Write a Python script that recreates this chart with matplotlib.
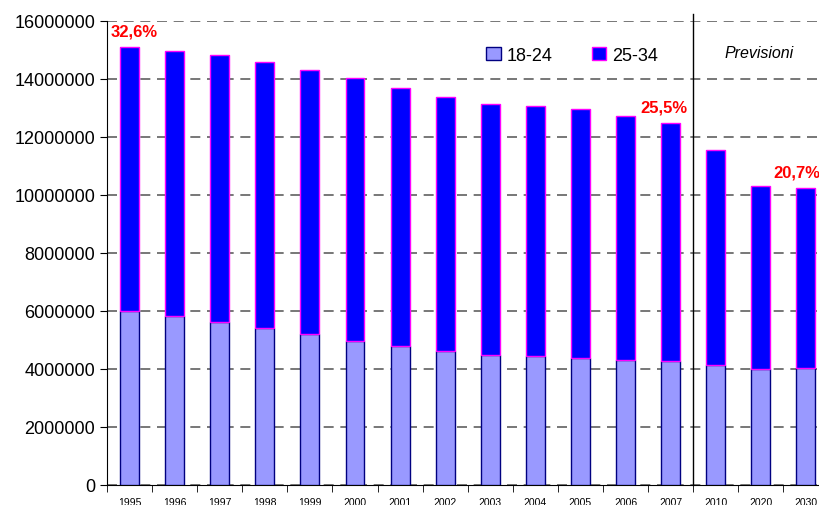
import matplotlib.pyplot as plt
import numpy as np

plt.rcParams['font.family'] = ['Liberation Sans', 'DejaVu Sans']

anni = ['1995', '1996', '1997', '1998', '1999', '2000', '2001', '2002', '2003',
        '2004', '2005', '2006', '2007', '2010', '2020', '2030']
eta_18_24 = [6000000, 5840000, 5630000, 5410000, 5210000, 4970000, 4780000, 4620000,
             4480000, 4440000, 4380000, 4310000, 4290000, 4140000, 4000000, 4050000]
totale = [15090000, 14980000, 14820000, 14600000, 14310000, 14030000, 13690000, 13390000,
          13150000, 13070000, 12950000, 12710000, 12490000, 11560000, 10320000, 10250000]
eta_25_34 = [t - a for t, a in zip(totale, eta_18_24)]

quote = {0: '32,6%', 12: '25,5%', 15: '20,7%'}

fig = plt.figure(figsize=(8.19, 5.06), dpi=100)
ax = fig.add_axes([107 / 819, 20 / 506, 1 - 107 / 819, 464 / 506])

x = np.arange(len(anni))
w = 0.42
ax.bar(x, eta_18_24, w, color='#9999FF', edgecolor='#000080', linewidth=1, label='18-24', zorder=3)
ax.bar(x, eta_25_34, w, bottom=eta_18_24, color='#0000FF', edgecolor='#FF00FF',
       linewidth=1, label='25-34', zorder=3)

ax.set_yticks(np.arange(0, 16000001, 2000000))
ax.set_yticklabels([str(v) for v in range(0, 16000001, 2000000)], fontsize=13)
ax.yaxis.grid(True, linestyle=(0, (6, 4)), color='#606060', linewidth=1.2, zorder=0)

ax.set_xticks(x)
ax.set_xticklabels(anni, fontsize=7.5)
ax.set_xticks(np.arange(-0.5, 16, 1), minor=True)
ax.tick_params(axis='x', which='major', length=0, pad=9)
ax.tick_params(axis='x', which='minor', length=5, direction='out', color='black')
ax.tick_params(axis='y', length=5, direction='out')

ax.set_ylim(0, 16000000)
ax.set_xlim(-0.5, 15.29)

for s in ['top', 'right']:
    ax.spines[s].set_visible(False)
ax.spines['left'].set_color('black')
ax.spines['bottom'].set_color('black')

ax.plot([12.5, 12.5], [0, 16250000], color='black', linewidth=1, clip_on=False, zorder=4)
ax.text(13.97, 14900000, 'Previsioni', fontsize=11.5, style='italic', ha='center', va='center')

sposta = {0: 0.1, 12: -0.15, 15: -0.2}
for i, txt in quote.items():
    ax.text(i + sposta[i], totale[i] + 300000, txt, color='red', fontsize=12, fontweight='bold',
            ha='center', va='bottom')

ax.legend(loc='upper left', bbox_to_anchor=(0.51, 0.98), ncol=2, frameon=False,
          fontsize=13, handlelength=0.8, handleheight=0.8, columnspacing=2.2,
          handletextpad=0.3)

fig.savefig('out.png', dpi=100)
